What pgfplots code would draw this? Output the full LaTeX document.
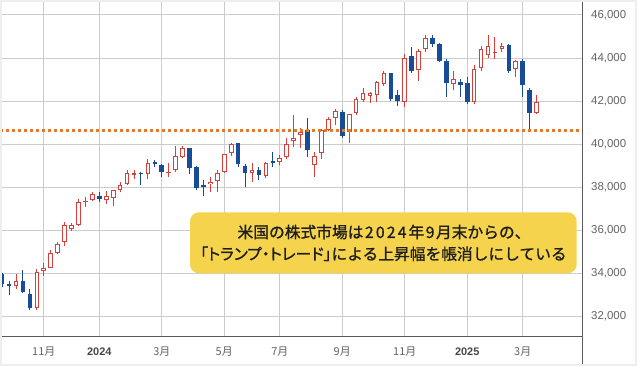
\documentclass[border=0pt]{standalone}
\usepackage{fontspec}
\setmainfont{Liberation Sans}
\newfontfamily\jp{Noto Sans CJK JP}
\newfontfamily\jpb[FakeBold=1]{Noto Sans CJK JP}
\newfontfamily\jpbp[FakeBold=1,RawFeature=+palt]{Noto Sans CJK JP}
\usepackage{pgfplots}
\usepackage{pgfplotstable}
\pgfplotsset{compat=1.18}

\definecolor{cred}{RGB}{214,64,58}
\definecolor{cblue}{RGB}{24,76,152}
\definecolor{corange}{RGB}{232,120,40}
\definecolor{gridgray}{RGB}{204,204,204}
\definecolor{axisgray}{RGB}{90,90,90}
\definecolor{tickgray}{RGB}{100,100,100}
\definecolor{yeargray}{RGB}{70,70,70}
\definecolor{boxyellow}{RGB}{245,211,76}
\definecolor{framegray}{RGB}{238,238,238}
\definecolor{textdark}{RGB}{30,30,30}

% weekly candles, x = weeks from the week of 1 Jan 2024
\pgfplotstableread{
x o h l c
-12 33407 33980 33300 33670
-9 32420 34200 32330 34061
-8 34100 34470 33900 34283
-7 34283 35090 34250 34947
-6 34947 35460 34900 35390
-5 35480 36400 35290 36270
-4 36080 36350 36000 36250
-3 36248 37450 36200 37305
-2 37305 37570 37100 37385
-1 37400 37800 37350 37690
1 37430 37830 37250 37593
2 37500 37900 37120 37863
3 37900 38270 37800 38109
4 38150 38810 38100 38654
5 38580 38800 38400 38671
7 38628 39300 38380 39131
10 38680 39150 38500 38730
11 38800 39935 38700 39476
12 39400 39920 39350 39807
16 38140 38470 37800 38260
17 38300 38810 37800 38676
18 38730 39560 38650 39530
19 39580 40077 39450 40004
22 38686 39120 38260 38799
24 38540 39200 38420 39150
26 39193 39500 39040 39376
27 39425 40280 39300 40001
28 40153 41376 39890 40288
29 40417 40740 39840 40589
31 39040 39660 38500 39457
32 39582 40700 39300 40660
33 40664 41280 40600 41175
34 41206 41640 40900 41545
36 40585 41420 40046 41394
37 41438 42200 41350 42088
38 42056 42600 41950 42366
39 42255 42441 41900 42366
40 42288 42950 41950 42905
41 42784 43415 42700 43322
44 41977 44190 41717 43990
46 43448 44400 42951 44329
47 44408 45071 44300 44946
51 42798 43415 42520 43016
54 41949 43680 41850 43480
55 43526 44575 43400 44408
56 44144 45071 44000 44561
57 44250 44993 43944 44297
58 44408 44686 44297 44561
60 43480 43900 43137 43865
63 41466 42288 41400 41977
}\up

\pgfplotstableread{
x o h l c
-14 33964 34010 33400 33507
-13 33507 33650 32990 33407
-11 33670 34170 33100 33127
-10 33050 33300 32330 32418
0 37620 37800 37300 37466
6 38671 38730 38100 38628
8 39190 39280 38960 39087
9 39040 39100 38500 38723
13 39807 39810 38620 38904
14 38961 39000 37880 37983
15 38110 38340 37610 38000
20 40046 40077 38950 39070
21 39007 39100 38000 38686
23 38807 38960 38340 38589
25 39225 39630 38960 39119
30 40664 41200 39400 39737
35 41485 41600 40300 40385
42 43294 43330 42000 42102
43 42288 42520 41777 42023
45 44097 44529 43300 43415
48 44946 45071 44500 44640
49 44640 44700 43800 43865
50 43879 43950 42181 42858
52 42905 43050 42209 42751
53 42858 43109 41850 41949
59 44608 44650 43300 43415
61 43879 43950 42209 42751
62 42520 42600 40664 41466
}\dn

\pgfplotsset{candle/.style={draw=none, mark=none, forget plot,
  error bars/.cd, y dir=plus, y explicit, error mark=none}}

\begin{document}
\begin{tikzpicture}
\useasboundingbox (0,0) rectangle (637bp,366bp);
\fill[white] (0,0) rectangle (637bp,366bp);
\begin{axis}[
  at={(0bp,29.3bp)}, anchor=south west,
  scale only axis, width=582.7bp, height=334.7bp,
  xmin=-14.31, xmax=69.64, ymin=31073, ymax=46603,
  axis x line*=bottom, axis y line*=right,
  axis line style={-, draw=axisgray, line width=1.2bp},
  xtick={-8,0,9,18,26,35,44,53,61},
  xticklabels={11月,{\rmfamily\bfseries\color{yeargray}2024},3月,5月,7月,9月,11月,{\rmfamily\bfseries\color{yeargray}2025},3月},
  ytick={32000,34000,36000,38000,40000,42000,44000,46000},
  scaled y ticks=false,
  major tick length=0pt,
  xmajorgrids, ymajorgrids,
  major grid style={draw=gridgray, line width=1bp},
  xticklabel style={font=\jp\fontsize{11}{13}\selectfont, text=tickgray, anchor=base, yshift=-18.6bp},
  yticklabel style={font=\fontsize{11.5}{13}\selectfont, text=tickgray, anchor=west, inner sep=0pt, xshift=8.3bp},
  /pgf/number format/1000 sep={,},
  /pgf/number format/assume math mode=true,
]
% wicks
\addplot[candle, error bar style={draw=cred, line width=1bp}]
  table[x=x, y=l, y error plus expr={\thisrow{h}-\thisrow{l}}] {\up};
\addplot[candle, error bar style={draw=cblue, line width=1bp}]
  table[x=x, y=l, y error plus expr={\thisrow{h}-\thisrow{l}}] {\dn};
% up bodies (hollow)
\addplot[candle, error bar style={draw=cred, line width=4.6bp}]
  table[x=x, y=o, y error plus expr={\thisrow{c}-\thisrow{o}}] {\up};
\addplot[candle, error bar style={draw=white, line width=2.6bp}]
  table[x=x, y expr={\thisrow{o}+46}, y error plus expr={max(\thisrow{c}-\thisrow{o}-92,0)}] {\up};
% down bodies (filled)
\addplot[candle, error bar style={draw=cblue, line width=4.6bp}]
  table[x=x, y=c, y error plus expr={\thisrow{o}-\thisrow{c}}] {\dn};
% low of 13 Mar 2025
\addplot[draw=corange, line width=3bp, dash pattern=on 3bp off 3bp] coordinates {(-14.31,40661) (69.64,40661)};
\end{axis}
\fill[boxyellow, rounded corners=9bp] (190bp,92.7bp) rectangle (576.7bp,153.7bp);
\node[font=\jpb\fontsize{15.8}{18}\selectfont, text=textdark] at (384bp,134bp) {米国の株式市場は\kern1.5bp 2\kern2.2bp 0\kern2.2bp 2\kern2.2bp 4\kern2bp 年\kern1.5bp 9\kern1.5bp 月末からの、};
\node[font=\jpb\fontsize{15.8}{18}\selectfont, text=textdark] at (383.5bp,112.2bp) {{\jpbp 「トランプ・トレード」}による上昇幅を帳消しにしている};
\draw[axisgray, line width=1.2bp] (582.7bp,0) -- (582.7bp,366bp);
\draw[framegray, line width=4bp] (0,0) rectangle (637bp,366bp);
\end{tikzpicture}
\end{document}
